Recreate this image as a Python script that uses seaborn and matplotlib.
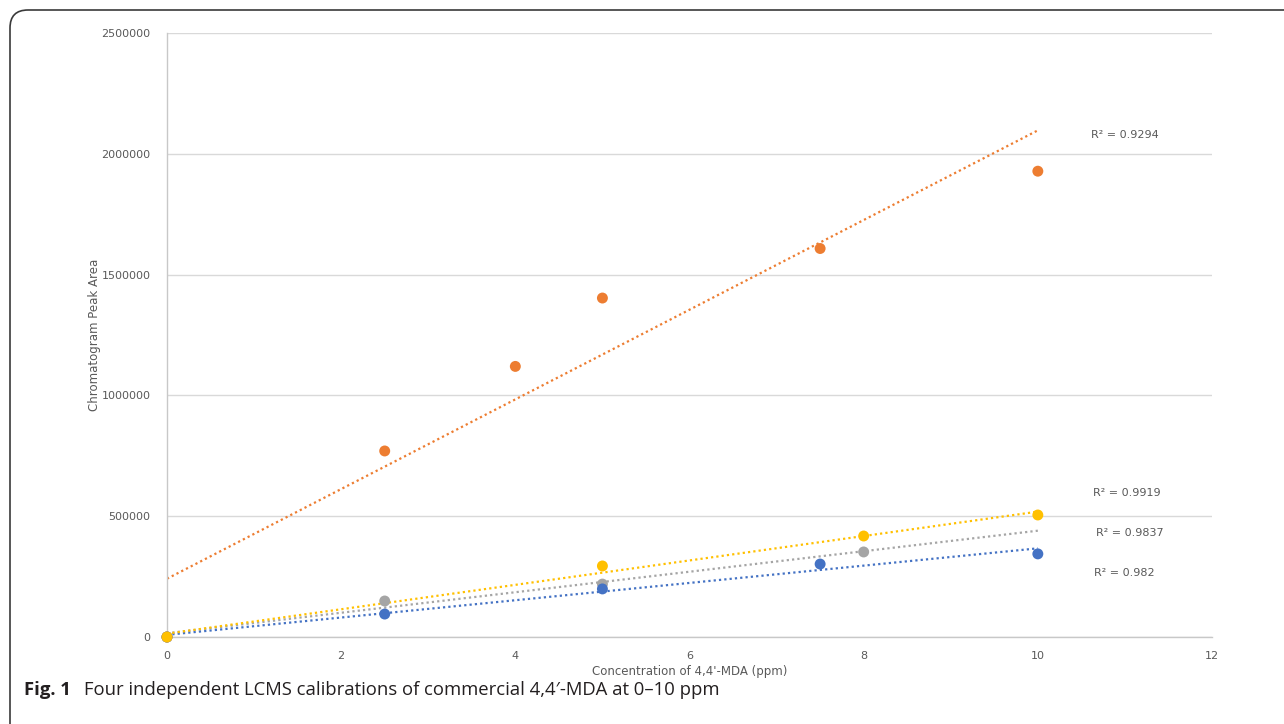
import numpy as np
import pandas as pd
import matplotlib
matplotlib.use("Agg")
import matplotlib.pyplot as plt
from matplotlib.patches import FancyBboxPatch
import seaborn as sns

# ---- data ----
x_orange = [0, 2.5, 4, 5, 7.5, 10]
y_orange = [0, 770000, 1120000, 1403000, 1608000, 1928000]
x_yellow = [0, 5, 8, 10]
y_yellow = [0, 294000, 418000, 505000]
x_gray = [0, 2.5, 5, 8]
y_gray = [0, 149000, 219000, 352000]
x_blue = [0, 2.5, 5, 7.5, 10]
y_blue = [0, 95000, 199000, 302000, 344000]

r2_labels = ["R² = 0.9294", "R² = 0.9919", "R² = 0.9837", "R² = 0.982"]
r2_pos_x = [11.0, 11.02, 11.06, 10.99]
r2_pos_y = [2078000, 596000, 430000, 265000]

x_ticks = [0, 2, 4, 6, 8, 10, 12]
y_ticks = [0, 500000, 1000000, 1500000, 2000000, 2500000]

x_label = "Concentration of 4,4'-MDA (ppm)"
y_label = "Chromatogram Peak Area"
caption_bold = "Fig. 1"
caption_text = "Four independent LCMS calibrations of commercial 4,4\u2032-MDA at 0\u201310 ppm"

colors = {"orange": "#ED7D31", "yellow": "#FFC000", "gray": "#A5A5A5", "blue": "#4472C4"}

series = [("orange", x_orange, y_orange, 10),
          ("gray", x_gray, y_gray, 10),
          ("blue", x_blue, y_blue, 10),
          ("yellow", x_yellow, y_yellow, 10)]

sns.set_theme(style="white")
plt.rcParams["font.family"] = ["Open Sans", "DejaVu Sans"]

fig = plt.figure(figsize=(12.84, 7.24), dpi=100)
ax = fig.add_axes([167 / 1284, 1 - 637 / 724, (1212 - 167) / 1284, (637 - 33) / 724])

df = pd.concat([pd.DataFrame({"x": xs, "y": ys, "s": name}) for name, xs, ys, _ in series])

# trendlines (linear least squares fit, Excel style dotted)
for name, xs, ys, xend in series:
    m, b = np.polyfit(xs, ys, 1)
    xx = np.array([0, xend])
    ax.plot(xx, m * xx + b, color=colors[name], lw=1.6, linestyle=(0, (1, 1.4)), zorder=2)

sns.scatterplot(data=df, x="x", y="y", hue="s", palette=colors, s=62,
                edgecolor="none", legend=False, ax=ax, zorder=3)
for coll in ax.collections:
    coll.set_clip_on(False)

for lab, tx, ty in zip(r2_labels, r2_pos_x, r2_pos_y):
    ax.text(tx, ty, lab, fontsize=8, color="#595959", ha="center", va="center",
            family=["DejaVu Sans"])

ax.set_xlim(0, 12)
ax.set_ylim(0, 2500000)
ax.set_xticks(x_ticks)
ax.set_yticks(y_ticks)
ax.set_xticklabels([str(t) for t in x_ticks])
ax.set_yticklabels([str(t) for t in y_ticks])
ax.tick_params(axis="both", length=0, labelsize=8, labelcolor="#595959")
ax.tick_params(axis="y", pad=12)
ax.tick_params(axis="x", pad=10)
ax.grid(axis="y", color="#D9D9D9", lw=1)
ax.set_axisbelow(True)
for sp in ["top", "right"]:
    ax.spines[sp].set_visible(False)
for sp in ["left", "bottom"]:
    ax.spines[sp].set_color("#C8C8C8")
    ax.spines[sp].set_linewidth(1)
ax.set_xlabel(x_label, fontsize=8.5, color="#595959", labelpad=3)
ax.set_ylabel(y_label, fontsize=8.5, color="#595959", labelpad=0)

for lbl in ax.get_xticklabels() + ax.get_yticklabels():
    lbl.set_family(["DejaVu Sans"])
ax.xaxis.label.set_family(["DejaVu Sans"])
ax.yaxis.label.set_family(["DejaVu Sans"])

# rounded frame (top-left corner visible)
W, H = 1284, 724
frame = FancyBboxPatch((10 / W, -40 / H), 1400 / W, (724 - 10 + 40) / H,
                       boxstyle="round,pad=0,rounding_size=0.014",
                       transform=fig.transFigure, fill=False, edgecolor="#3a3a3a",
                       lw=1.2, clip_on=False, mutation_aspect=W / H)
fig.patches.append(frame)

fig.text(24 / W, 1 - 690 / H, caption_bold, fontsize=13.3, fontweight="bold",
         color="#231F20", va="center", ha="left")
fig.text(84 / W, 1 - 690 / H, caption_text, fontsize=13.3, color="#231F20",
         va="center", ha="left")

fig.savefig("out.png", dpi=100)
